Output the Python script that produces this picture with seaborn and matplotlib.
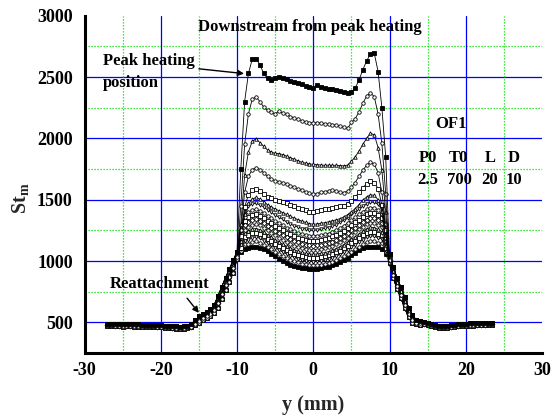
import matplotlib
matplotlib.use('Agg')
import matplotlib.pyplot as plt
import pandas as pd
import seaborn as sns

# ---------------- data ----------------
x_left = [-27, -26.5, -26, -25.5, -25, -24.5, -24, -23.5, -23, -22.5, -22, -21.5, -21, -20.5,
          -20, -19.5, -19, -18.5, -18, -17.5, -17, -16.5, -16, -15.5, -15, -14.5, -14, -13.5,
          -13, -12.5, -12, -11.5, -11, -10.5, -10]
x_mid = [-9.5, -9, -8.5, -8, -7.5, -7, -6.5, -6, -5.5, -5, -4.5, -4, -3.5, -3, -2.5, -2, -1.5,
         -1, -0.5, 0, 0.5, 1, 1.5, 2, 2.5, 3, 3.5, 4, 4.5, 5, 5.5, 6, 6.5, 7, 7.5, 8, 8.5, 9, 9.5]
x_right = [10, 10.5, 11, 11.5, 12, 12.5, 13, 13.5, 14, 14.5, 15, 15.5, 16, 16.5, 17, 17.5, 18,
           18.5, 19, 19.5, 20, 20.5, 21, 21.5, 22, 22.5, 23, 23.5]

# outer (separated-flow) part of the profiles: four strands of the dense band
edge_left_A = [487, 490, 484, 487, 485, 486, 484, 483, 485, 481, 482, 479, 480, 477, 476, 474, 471, 470,
               467, 466, 468, 474, 488, 515, 548, 572, 588, 606, 640, 715, 790, 865, 935, 1005, 1075]
edge_left_B = [481, 482, 480, 481, 478, 480, 479, 476, 478, 476, 474, 473, 474, 471, 470, 467, 465, 463,
               461, 459, 461, 466, 478, 503, 531, 555, 570, 588, 620, 678, 748, 826, 890, 965, 1055]
edge_left_C = [475, 477, 473, 474, 472, 474, 473, 471, 472, 470, 469, 467, 468, 465, 464, 462, 459, 457,
               455, 453, 455, 458, 466, 487, 513, 535, 550, 568, 600, 658, 728, 805, 870, 945, 1035]
edge_left_D = [469, 471, 468, 469, 466, 468, 467, 465, 466, 464, 463, 461, 462, 459, 458, 456, 453, 451,
               449, 447, 449, 452, 458, 475, 496, 518, 532, 550, 580, 620, 690, 765, 830, 905, 1015]

edge_right_A = [1060, 950, 860, 785, 705, 620, 558, 522, 508, 502, 497, 489, 479, 474, 471, 473, 477,
                481, 485, 487, 489, 491, 492, 493, 493, 494, 495, 496]
edge_right_B = [1035, 920, 830, 755, 675, 593, 538, 510, 499, 495, 491, 483, 473, 468, 465, 467, 471,
                475, 479, 481, 483, 485, 486, 487, 487, 488, 489, 490]
edge_right_C = [1005, 890, 800, 725, 645, 567, 518, 496, 491, 489, 485, 477, 467, 462, 459, 461, 465,
                469, 473, 475, 477, 479, 480, 481, 481, 482, 483, 484]
edge_right_D = [980, 860, 770, 695, 615, 540, 498, 484, 482, 483, 479, 471, 461, 456, 453, 455, 459,
                463, 467, 469, 471, 473, 474, 475, 475, 476, 477, 478]

# inner part (between the peak-heating lines), one list per profile
st_01 = [1750, 2300, 2530, 2645, 2650, 2600, 2530, 2488, 2474, 2490, 2500, 2490, 2482, 2470, 2458, 2450,
         2440, 2428, 2418, 2412, 2432, 2418, 2410, 2404, 2400, 2396, 2386, 2376, 2372, 2378, 2410, 2475,
         2560, 2630, 2690, 2695, 2545, 2250, 1850]
st_02 = [1450, 1950, 2200, 2320, 2338, 2300, 2255, 2228, 2212, 2200, 2222, 2205, 2195, 2178, 2165, 2155,
         2145, 2135, 2128, 2126, 2128, 2124, 2120, 2115, 2112, 2106, 2100, 2090, 2082, 2130, 2160, 2215,
         2285, 2345, 2372, 2340, 2200, 1960, 1550]
st_03 = [1300, 1700, 1890, 1975, 1998, 1965, 1935, 1905, 1888, 1878, 1875, 1868, 1855, 1842, 1830, 1818,
         1805, 1798, 1792, 1788, 1785, 1783, 1780, 1782, 1779, 1781, 1778, 1776, 1782, 1812, 1850, 1895,
         1950, 2000, 2040, 2030, 1925, 1740, 1400]
st_04 = [1250, 1560, 1690, 1745, 1762, 1745, 1720, 1690, 1668, 1655, 1648, 1640, 1630, 1615, 1600, 1588,
         1575, 1562, 1552, 1546, 1550, 1560, 1565, 1572, 1580, 1570, 1562, 1558, 1570, 1600, 1640, 1690,
         1740, 1780, 1805, 1790, 1720, 1560, 1300]
st_05 = [1200, 1440, 1540, 1575, 1585, 1570, 1548, 1525, 1510, 1500, 1492, 1480, 1470, 1458, 1445, 1435,
         1425, 1412, 1402, 1396, 1405, 1412, 1420, 1428, 1432, 1440, 1445, 1452, 1468, 1490, 1520, 1560,
         1598, 1630, 1650, 1640, 1590, 1460, 1250]
st_06 = [1160, 1380, 1470, 1505, 1518, 1505, 1482, 1460, 1440, 1425, 1410, 1395, 1380, 1365, 1350, 1338,
         1325, 1315, 1305, 1300, 1302, 1308, 1312, 1320, 1328, 1335, 1345, 1360, 1378, 1400, 1428, 1460,
         1495, 1522, 1540, 1535, 1500, 1410, 1220]
st_07 = [1280, 1400, 1448, 1466, 1470, 1459, 1439, 1417, 1398, 1375, 1356, 1340, 1318, 1303, 1287, 1276,
         1265, 1262, 1252, 1250, 1252, 1257, 1268, 1273, 1285, 1295, 1314, 1333, 1354, 1380, 1400, 1422,
         1446, 1466, 1480, 1478, 1462, 1420, 1270]
st_08 = [1250, 1360, 1399, 1416, 1420, 1409, 1390, 1368, 1347, 1328, 1308, 1292, 1272, 1257, 1242, 1231,
         1220, 1214, 1207, 1205, 1207, 1212, 1219, 1224, 1240, 1253, 1269, 1288, 1309, 1332, 1355, 1382,
         1401, 1421, 1435, 1433, 1417, 1385, 1240]
st_09 = [1220, 1330, 1359, 1376, 1380, 1369, 1350, 1328, 1307, 1288, 1268, 1249, 1232, 1217, 1202, 1191,
         1180, 1174, 1167, 1165, 1167, 1172, 1179, 1188, 1200, 1213, 1229, 1248, 1269, 1292, 1315, 1338,
         1361, 1381, 1395, 1393, 1377, 1350, 1215]
st_10 = [1190, 1290, 1319, 1336, 1340, 1329, 1310, 1288, 1267, 1248, 1228, 1209, 1192, 1177, 1162, 1151,
         1140, 1134, 1127, 1125, 1127, 1132, 1139, 1148, 1159, 1173, 1189, 1207, 1227, 1250, 1273, 1295,
         1318, 1338, 1352, 1350, 1334, 1310, 1190]
st_11 = [1160, 1255, 1279, 1296, 1300, 1290, 1271, 1250, 1229, 1210, 1191, 1172, 1155, 1140, 1126, 1115,
         1105, 1098, 1092, 1090, 1092, 1097, 1103, 1112, 1123, 1137, 1152, 1170, 1190, 1212, 1234, 1257,
         1279, 1299, 1312, 1310, 1294, 1275, 1160]
st_12 = [1135, 1225, 1244, 1261, 1265, 1255, 1236, 1215, 1194, 1175, 1156, 1137, 1120, 1105, 1091, 1080,
         1070, 1063, 1057, 1055, 1057, 1062, 1068, 1077, 1088, 1101, 1117, 1134, 1154, 1176, 1198, 1220,
         1242, 1262, 1275, 1273, 1257, 1240, 1130]
st_13 = [1110, 1195, 1210, 1226, 1230, 1220, 1201, 1181, 1160, 1142, 1123, 1105, 1089, 1074, 1060, 1050,
         1039, 1033, 1027, 1025, 1027, 1031, 1038, 1047, 1057, 1070, 1085, 1102, 1122, 1143, 1165, 1186,
         1208, 1227, 1240, 1238, 1223, 1210, 1105]
st_14 = [1095, 1165, 1175, 1191, 1195, 1185, 1167, 1147, 1127, 1109, 1091, 1073, 1057, 1043, 1029, 1019,
         1009, 1003, 997, 995, 997, 1001, 1008, 1016, 1027, 1039, 1054, 1071, 1090, 1111, 1132, 1153,
         1174, 1192, 1205, 1203, 1188, 1180, 1085]
st_15 = [1085, 1135, 1141, 1156, 1160, 1150, 1133, 1113, 1094, 1076, 1059, 1041, 1025, 1012, 998, 988,
         979, 973, 967, 965, 967, 971, 977, 985, 995, 1007, 1021, 1037, 1055, 1075, 1095, 1115,
         1135, 1153, 1165, 1163, 1149, 1145, 1070]
st_16 = [1075, 1095, 1110, 1118, 1118, 1110, 1095, 1080, 1060, 1040, 1018, 998, 982, 968, 958, 950,
         945, 940, 937, 936, 938, 942, 948, 955, 964, 975, 990, 1008, 1028, 1048, 1068, 1088,
         1102, 1112, 1118, 1118, 1115, 1100, 1060]

profiles = [st_01, st_02, st_03, st_04, st_05, st_06, st_07, st_08,
            st_09, st_10, st_11, st_12, st_13, st_14, st_15, st_16]
edges_left = {'A': edge_left_A, 'B': edge_left_B, 'C': edge_left_C, 'D': edge_left_D}
edges_right = {'A': edge_right_A, 'B': edge_right_B, 'C': edge_right_C, 'D': edge_right_D}
strand = ['A', 'C', 'B', 'D', 'A', 'C', 'B', 'D', 'A', 'C', 'B', 'D', 'A', 'C', 'B', 'D']

# ---------------- style ----------------
markers = ['s', 'o', '^', 'o', 's', '^', 'v', 'o', 's', 'D', 'o', '^', 's', 'v', 'o', 's']
filled = [True] + [False] * 14 + [True]

sns.set_style('white')
plt.rcParams['font.family'] = ['Liberation Serif', 'DejaVu Serif']
plt.rcParams['font.weight'] = 'bold'
plt.rcParams['axes.unicode_minus'] = False
plt.rcParams['mathtext.fontset'] = 'custom'
plt.rcParams['mathtext.rm'] = 'Liberation Serif:bold'
plt.rcParams['mathtext.bf'] = 'Liberation Serif:bold'
plt.rcParams['mathtext.it'] = 'Liberation Serif:bold'

fig = plt.figure(figsize=(5.53, 4.18), dpi=100)
ax = fig.add_axes([84.5 / 553, 1 - 353 / 418, (542 - 84.5) / 553, (353 - 15.7) / 418])

# grid
for v in [500, 1000, 1500, 2000, 2500]:
    ax.axhline(v, color='#0000ff', lw=0.9, zorder=0)
for v in [750, 1250, 1750, 2250, 2750]:
    ax.axhline(v, color='#00e000', lw=0.9, ls=(0, (1, 1.4)), zorder=0)
for v in [-20, -10, 0, 10, 20]:
    ax.axvline(v, color='#0000ff', lw=0.9, zorder=0)
for v in [-25, -15, -5, 5, 15, 25]:
    ax.axvline(v, color='#00e000', lw=0.9, ls=(0, (1, 1.4)), zorder=0)

x_all = x_left + x_mid + x_right
for i, vals in enumerate(profiles):
    y_all = edges_left[strand[i]] + vals + edges_right[strand[i]]
    df = pd.DataFrame({'y_mm': x_all, 'St': y_all})
    ms = 2.2 if markers[i] == 's' else 2.5
    sns.lineplot(data=df, x='y_mm', y='St', ax=ax, color='black', lw=0.6,
                 marker=markers[i], markersize=ms,
                 markerfacecolor='black' if filled[i] else 'white',
                 markeredgecolor='black', markeredgewidth=0.6,
                 estimator=None, sort=False, zorder=3 + (16 - i) * 0.01)

ax.set_xlim(-30, 30)
ax.set_ylim(250, 3000)
ax.set_xticks([-30, -20, -10, 0, 10, 20, 30])
ax.set_xticks([-25, -15, -5, 5, 15, 25], minor=True)
ax.set_yticks([500, 1000, 1500, 2000, 2500, 3000])
ax.set_yticks([750, 1250, 1750, 2250, 2750], minor=True)

ax.tick_params(axis='y', which='major', direction='out', length=5.5, width=1.4,
               labelsize=13, pad=3, colors='black')
ax.tick_params(axis='y', which='minor', direction='out', length=2.5, width=1.4)
ax.tick_params(axis='x', which='both', direction='inout', length=5, width=1.4,
               labelsize=13, pad=4, colors='black')
for lab in ax.get_xticklabels() + ax.get_yticklabels():
    lab.set_fontweight('bold')

for s in ['top', 'right']:
    ax.spines[s].set_visible(False)
for s in ['left', 'bottom']:
    ax.spines[s].set_linewidth(2.2)
    ax.spines[s].set_color('black')

ax.set_xlabel('y (mm)', fontsize=14.5, fontweight='bold')
ax.xaxis.set_label_coords(0.5, -0.125)
ax.set_ylabel(r'$\mathbf{St}_{\mathbf{m}}$', fontsize=14.5)
ax.yaxis.set_label_coords(-0.118, 0.46)

tk = dict(fontsize=12, fontweight='bold', color='black', zorder=6)
ax.text(-0.46, 2910, 'Downstream from peak heating', ha='center', va='center', **tk)
ax.text(-27.6, 2634, 'Peak heating', ha='left', va='center', **tk)
ax.text(-27.6, 2451, 'position', ha='left', va='center', **tk)
ax.annotate('', xy=(-9.08, 2528), xytext=(-15.0, 2567),
            arrowprops=dict(arrowstyle='-|>', color='black', lw=1.0, mutation_scale=9,
                            shrinkA=0, shrinkB=0), zorder=6)
ax.text(-26.75, 809, 'Reattachment', ha='left', va='center', **tk)
ax.annotate('', xy=(-15.0, 577), xytext=(-16.55, 697),
            arrowprops=dict(arrowstyle='-|>', color='black', lw=1.0, mutation_scale=9,
                            shrinkA=0, shrinkB=0), zorder=6)
ax.text(18.1, 2119, 'OF1', ha='center', va='center', **tk)
for xc, t in zip([15.0, 19.1, 23.2, 26.25], ['P0', 'T0', 'L', 'D']):
    ax.text(xc, 1839, t, ha='center', va='center', **tk)
for xc, t in zip([15.0, 19.2, 23.1, 26.3], ['2.5', '700', '20', '10']):
    ax.text(xc, 1661, t, ha='center', va='center', **tk)

fig.savefig('out.png', dpi=100)
